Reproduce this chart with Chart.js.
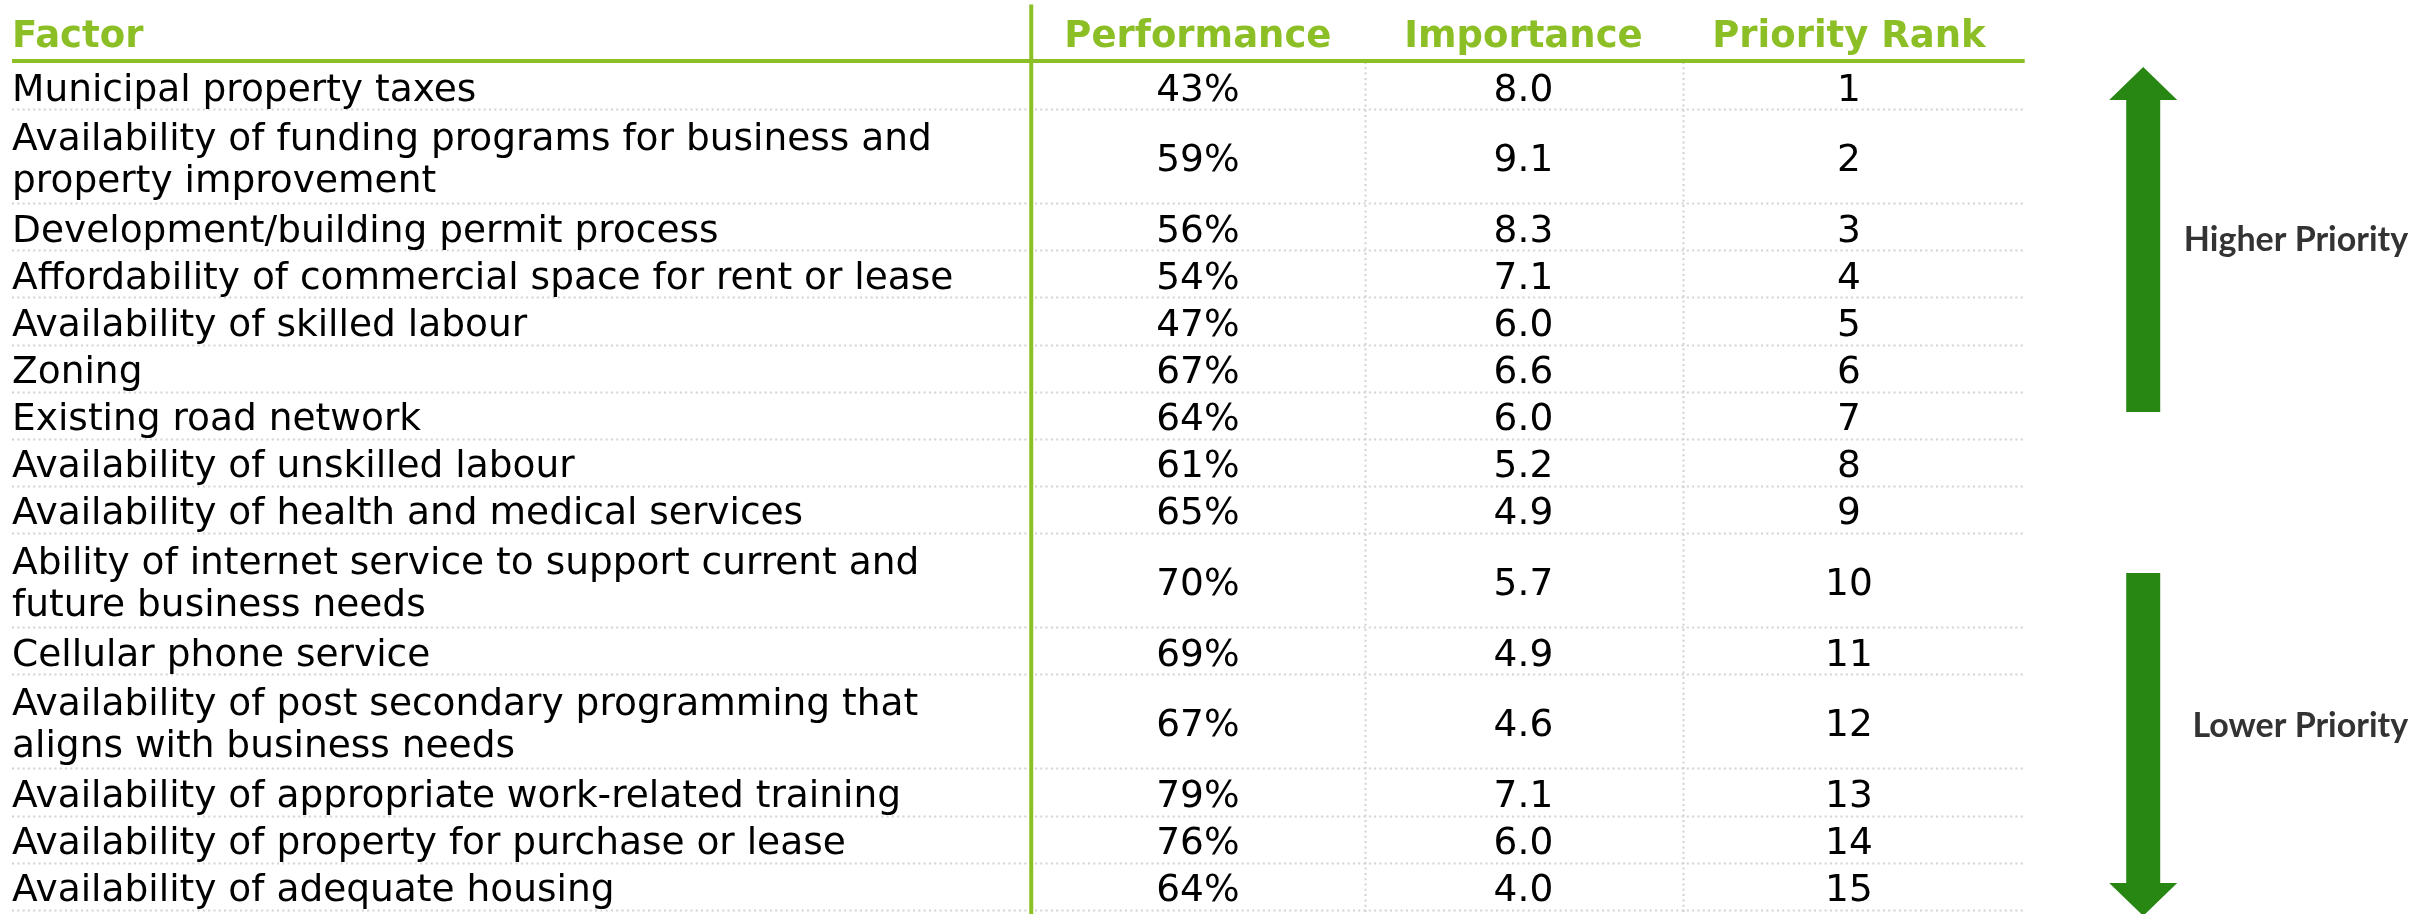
<!DOCTYPE html>
<html>
<head>
<meta charset="utf-8">
<script src="https://cdn.jsdelivr.net/npm/chart.js@4.4.1/dist/chart.umd.min.js"></script>
<style>
  html, body { margin: 0; padding: 0; background: #fff; }
  #wrap { width: 2430px; height: 914px; }
</style>
</head>
<body>
<div id="wrap"><canvas id="table"></canvas></div>
<script>
// Table data
const headers = ["Factor", "Performance", "Importance", "Priority Rank"];
const factors = [
  "Municipal property taxes",
  ["Availability of funding programs for business and", "property improvement"],
  "Development/building permit process",
  "Affordability of commercial space for rent or lease",
  "Availability of skilled labour",
  "Zoning",
  "Existing road network",
  "Availability of unskilled labour",
  "Availability of health and medical services",
  ["Ability of internet service to support current and", "future business needs"],
  "Cellular phone service",
  ["Availability of post secondary programming that", "aligns with business needs"],
  "Availability of appropriate work-related training",
  "Availability of property for purchase or lease",
  "Availability of adequate housing"
];
const performance = [43, 59, 56, 54, 47, 67, 64, 61, 65, 70, 69, 67, 79, 76, 64];
const importance = [8.0, 9.1, 8.3, 7.1, 6.0, 6.6, 6.0, 5.2, 4.9, 5.7, 4.9, 4.6, 7.1, 6.0, 4.0];
const priorityRank = [1, 2, 3, 4, 5, 6, 7, 8, 9, 10, 11, 12, 13, 14, 15];
const arrowLabels = ["Higher Priority", "Lower Priority"];

const GREEN = "#8CBF26";
const ARROW = "#278712";
const DOT = "#d2d2d2";
const BODY_FONT = "37.5px 'DejaVu Sans'";
const HEAD_FONT = "bold 37px 'DejaVu Sans'";

// one y unit per text line, rows stacked from 0 downwards
const rowLines = factors.map(f => Array.isArray(f) ? f.length : 1);
const rowStart = [];
let acc = 0;
rowLines.forEach(n => { rowStart.push(acc); acc += n; });
const rowMid = rowStart.map((s, i) => s + rowLines[i] / 2);

const FACTOR_X = -2.643;
const cellText = [
  factors,
  performance.map(v => v + "%"),
  importance.map(v => v.toFixed(1)),
  priorityRank.map(v => String(v))
];

const tablePlugin = {
  id: "tablePlugin",
  beforeDatasetsDraw(chart) {
    const { ctx, scales: { x, y }, chartArea } = chart;
    ctx.save();
    // dotted row separators
    ctx.strokeStyle = DOT;
    ctx.lineWidth = 2;
    ctx.setLineDash([2, 3.3]);
    rowStart.slice(1).concat([acc]).forEach(s => {
      const py = Math.round(y.getPixelForValue(s)) + 0.5;
      ctx.beginPath();
      ctx.moveTo(x.getPixelForValue(FACTOR_X), py);
      ctx.lineTo(x.getPixelForValue(3.54), py);
      ctx.stroke();
    });
    // dotted column separators
    [1.512, 2.49].forEach(c => {
      const px = Math.round(x.getPixelForValue(c)) + 0.5;
      ctx.beginPath();
      ctx.moveTo(px, y.getPixelForValue(0));
      ctx.lineTo(px, chartArea.bottom);
      ctx.stroke();
    });
    ctx.setLineDash([]);
    // header rule and factor column rule
    ctx.strokeStyle = GREEN;
    ctx.lineWidth = 4;
    const hy = y.getPixelForValue(-0.02);
    ctx.beginPath();
    ctx.moveTo(x.getPixelForValue(FACTOR_X), hy);
    ctx.lineTo(x.getPixelForValue(3.54), hy);
    ctx.stroke();
    const vx = x.getPixelForValue(0.488);
    ctx.beginPath();
    ctx.moveTo(vx, y.getPixelForValue(-1.22));
    ctx.lineTo(vx, chartArea.bottom);
    ctx.stroke();
    // headers
    ctx.fillStyle = GREEN;
    ctx.font = HEAD_FONT;
    ctx.textBaseline = "alphabetic";
    const hTextY = y.getPixelForValue(-0.594) + 13;
    [FACTOR_X, 1, 2, 3].forEach((c, i) => {
      ctx.textAlign = i === 0 ? "left" : "center";
      ctx.fillText(headers[i], x.getPixelForValue(c), hTextY);
    });
    ctx.restore();
  },
  afterDatasetsDraw(chart) {
    const { ctx, scales: { x, y } } = chart;
    ctx.save();
    ctx.fillStyle = "#000";
    ctx.font = BODY_FONT;
    ctx.textBaseline = "alphabetic";
    chart.data.datasets.forEach((ds, d) => {
      const meta = chart.getDatasetMeta(d);
      ctx.textAlign = d === 0 ? "left" : "center";
      meta.data.forEach((el, i) => {
        const t = cellText[d][i];
        const lines = Array.isArray(t) ? t : [t];
        const lh = 42;
        const top = el.y - (lines.length - 1) * lh / 2;
        lines.forEach((ln, k) => ctx.fillText(ln, el.x, top + k * lh + 15));
      });
    });

    // priority arrows
    const ax = x.getPixelForValue(3.904);
    const drawArrow = (tip, base, tail) => {
      const pt = y.getPixelForValue(tip), pb = y.getPixelForValue(base), pe = y.getPixelForValue(tail);
      ctx.beginPath();
      ctx.moveTo(ax, pt);
      ctx.lineTo(ax + 34, pb);
      ctx.lineTo(ax + 17, pb);
      ctx.lineTo(ax + 17, pe);
      ctx.lineTo(ax - 17, pe);
      ctx.lineTo(ax - 17, pb);
      ctx.lineTo(ax - 34, pb);
      ctx.closePath();
      ctx.fill();
    };
    ctx.fillStyle = ARROW;
    drawArrow(0.106, 0.807, 7.43);
    drawArrow(18.13, 17.43, 10.85);

    ctx.fillStyle = "#333333";
    ctx.font = "bold 34px Lato";
    ctx.textAlign = "right";
    const lx = x.getPixelForValue(4.718);
    ctx.fillText(arrowLabels[0], lx, y.getPixelForValue(3.76) + 12);
    ctx.fillText(arrowLabels[1], lx, y.getPixelForValue(14.08) + 12);
    ctx.restore();
  }
};

const pts = (col) => rowMid.map(m => ({ x: col, y: m }));

new Chart(document.getElementById("table"), {
  type: "scatter",
  data: {
    datasets: [
      { label: headers[0], data: pts(FACTOR_X) },
      { label: headers[1], data: pts(1) },
      { label: headers[2], data: pts(2) },
      { label: headers[3], data: pts(3) }
    ]
  },
  options: {
    responsive: true,
    maintainAspectRatio: false,
    animation: false,
    layout: { padding: 0 },
    elements: { point: { radius: 0, hoverRadius: 0 } },
    plugins: { legend: { display: false }, tooltip: { enabled: false } },
    scales: {
      x: { type: "linear", display: false, min: -2.68, max: 4.785 },
      y: { type: "linear", display: false, reverse: true, min: -1.316, max: 18.09 }
    }
  },
  plugins: [tablePlugin]
});
</script>
</body>
</html>
